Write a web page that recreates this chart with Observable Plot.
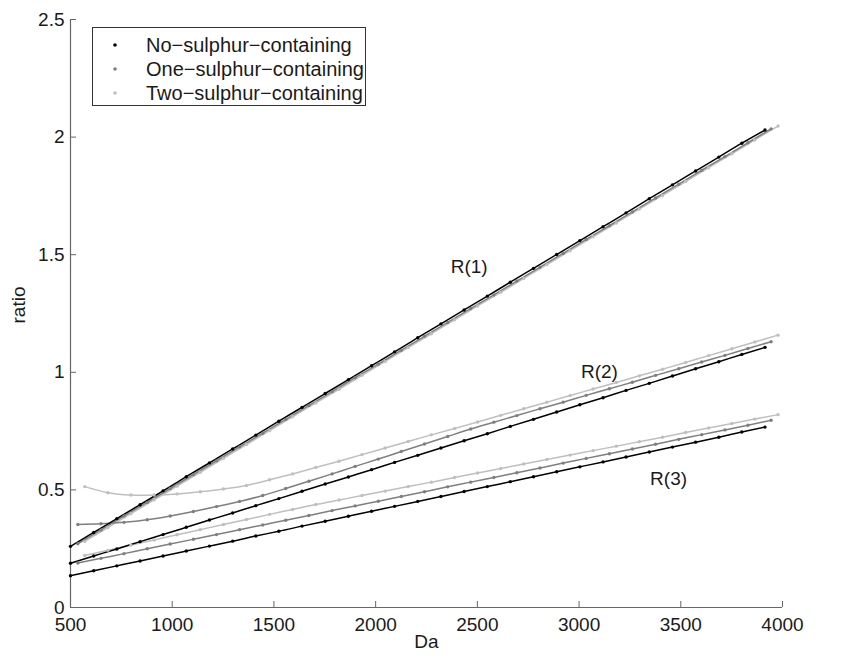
<!DOCTYPE html>
<html><head><meta charset="utf-8">
<script src="https://cdn.jsdelivr.net/npm/d3@7"></script>
<script src="https://cdn.jsdelivr.net/npm/@observablehq/plot@0.6"></script>
<style>body{margin:0;background:#fff}</style>
</head><body><div id="chart"></div>
<script>
const groups = ["No\u2212sulphur\u2212containing", "One\u2212sulphur\u2212containing", "Two\u2212sulphur\u2212containing"];
const groupColors = ["#000000", "#7f7f7f", "#bfbfbf"];

const daNo = [500,614,728,842,955,1069,1183,1297,1411,1524,1638,1752,1866,1980,2093,2207,2321,2435,2549,2662,2776,2890,3004,3118,3231,3345,3459,3573,3687,3800,3914];
const r1No = [0.260,0.319,0.378,0.437,0.496,0.556,0.615,0.674,0.733,0.792,0.851,0.910,0.969,1.028,1.087,1.147,1.206,1.265,1.324,1.383,1.442,1.501,1.560,1.619,1.678,1.738,1.797,1.856,1.915,1.974,2.030];
const r2No = [0.188,0.219,0.249,0.280,0.310,0.341,0.372,0.402,0.433,0.463,0.494,0.525,0.555,0.586,0.617,0.647,0.678,0.709,0.739,0.770,0.800,0.831,0.862,0.892,0.923,0.953,0.984,1.015,1.045,1.076,1.106];
const r3No = [0.135,0.156,0.177,0.198,0.219,0.240,0.261,0.282,0.304,0.324,0.346,0.367,0.388,0.409,0.430,0.451,0.472,0.493,0.514,0.535,0.556,0.577,0.598,0.619,0.640,0.661,0.682,0.703,0.724,0.746,0.767];

const daOne = [536,650,763,877,990,1104,1218,1331,1445,1558,1672,1786,1899,2013,2126,2240,2354,2467,2581,2694,2808,2922,3035,3149,3262,3376,3490,3603,3717,3830,3944];
const r1One = [0.271,0.330,0.389,0.447,0.506,0.565,0.624,0.683,0.741,0.800,0.859,0.918,0.977,1.035,1.094,1.153,1.212,1.271,1.329,1.388,1.447,1.506,1.565,1.623,1.682,1.741,1.800,1.859,1.917,1.976,2.035];
const r2One = [0.353,0.356,0.362,0.373,0.389,0.408,0.429,0.451,0.476,0.506,0.537,0.568,0.600,0.631,0.663,0.695,0.727,0.759,0.788,0.816,0.845,0.873,0.902,0.930,0.958,0.987,1.015,1.044,1.072,1.101,1.130];
const r3One = [0.189,0.209,0.229,0.250,0.270,0.290,0.310,0.331,0.351,0.371,0.391,0.412,0.432,0.452,0.472,0.492,0.513,0.533,0.553,0.573,0.593,0.614,0.634,0.654,0.674,0.694,0.715,0.735,0.755,0.775,0.796];

const daTwo = [570,684,797,911,1024,1138,1252,1365,1479,1592,1706,1820,1933,2047,2160,2274,2388,2501,2615,2728,2842,2956,3069,3183,3296,3410,3524,3637,3751,3864,3978];
const r1Two = [0.281,0.340,0.399,0.458,0.516,0.575,0.634,0.693,0.752,0.811,0.870,0.928,0.987,1.046,1.105,1.164,1.223,1.282,1.340,1.399,1.458,1.517,1.576,1.635,1.694,1.752,1.811,1.870,1.929,1.988,2.047];
const r2Two = [0.514,0.488,0.478,0.478,0.483,0.492,0.504,0.519,0.543,0.568,0.595,0.622,0.650,0.678,0.706,0.734,0.761,0.789,0.817,0.845,0.873,0.901,0.929,0.957,0.985,1.013,1.042,1.071,1.100,1.129,1.158];
const r3Two = [0.221,0.243,0.265,0.287,0.309,0.331,0.353,0.374,0.396,0.417,0.438,0.457,0.476,0.495,0.514,0.533,0.553,0.572,0.591,0.610,0.629,0.648,0.667,0.686,0.705,0.724,0.744,0.763,0.782,0.801,0.820];

const xTicks = [500,1000,1500,2000,2500,3000,3500,4000];
const yTicks = [0,0.5,1,1.5,2,2.5];
const yTickLabels = ["0","0.5","1","1.5","2","2.5"];
const curveLabels = ["R(1)","R(2)","R(3)"];
const curveLabelDa = [2460,3100,3440];
const curveLabelRatio = [1.45,1.0,0.545];

// Build table (light series first so black is drawn on top)
const seriesDefs = [
  [groups[2], daTwo, [r1Two, r2Two, r3Two]],
  [groups[1], daOne, [r1One, r2One, r3One]],
  [groups[0], daNo,  [r1No,  r2No,  r3No]]
];
const rows = [];
for (const [g, das, rs] of seriesDefs) {
  rs.forEach((vals, ri) => {
    vals.forEach((v, i) => rows.push({g, r: "R" + (ri + 1), da: das[i], v}));
  });
}
const labelRows = curveLabels.map((t, i) => ({t, da: curveLabelDa[i], v: curveLabelRatio[i]}));

const FONT = "'Liberation Sans', Arial, Helvetica, sans-serif";
const W = 841, H = 656, ML = 70, MR = 59, MT = 19, MB = 49;
const axisGray = "#666666";

const chart = Plot.plot({
  width: W, height: H,
  marginLeft: ML, marginRight: MR, marginTop: MT, marginBottom: MB,
  style: {fontFamily: FONT, fontSize: "19px", color: "#1a1a1a", background: "white"},
  x: {domain: [500, 4000], label: null},
  y: {domain: [0, 2.5], label: null},
  color: {domain: groups, range: groupColors},
  marks: [
    Plot.ruleY([0], {stroke: axisGray, strokeWidth: 1.2}),
    Plot.ruleX([500], {stroke: axisGray, strokeWidth: 1.2}),
    Plot.tickX(xTicks, {x: d => d, stroke: axisGray, insetTop: H - MT - MB - 6}),
    Plot.tickY(yTicks, {y: d => d, stroke: axisGray, insetRight: W - ML - MR - 6}),
    Plot.axisX(xTicks, {tickSize: 0, tickPadding: 10, tickFormat: d => String(d), label: null}),
    Plot.axisY(yTicks, {tickSize: 0, tickPadding: 6, tickFormat: d => yTickLabels[yTicks.indexOf(d)], label: null}),
    Plot.line(rows, {x: "da", y: "v", z: d => d.g + d.r, stroke: "g", strokeWidth: 1.5, curve: "natural"}),
    Plot.dot(rows, {x: "da", y: "v", fill: "g", r: 1.7}),
    Plot.text(labelRows, {x: "da", y: "v", text: "t", fontSize: 19, fill: "#1a1a1a"}),
    Plot.text(["Da"], {frameAnchor: "bottom", dy: 40, fontSize: 19, fill: "#1a1a1a"}),
    Plot.text(["ratio"], {frameAnchor: "left", dx: -52, dy: 10, rotate: -90, fontSize: 19, fill: "#1a1a1a"})
  ]
});

// Legend box inside the plot area (top-left)
const svg = d3.select(chart);
const lg = svg.append("g").attr("font-family", FONT).attr("font-size", 20).attr("text-anchor", "start");
lg.append("rect").attr("x", 92.5).attr("y", 27.5).attr("width", 273).attr("height", 78)
  .attr("fill", "white").attr("stroke", "#333").attr("stroke-width", 1);
groups.forEach((g, i) => {
  const cy = 45 + i * 24;
  lg.append("circle").attr("cx", 115).attr("cy", cy).attr("r", 1.8).attr("fill", groupColors[i]);
  lg.append("text").attr("x", 146).attr("y", cy).attr("dy", "0.35em").attr("text-anchor", "start").attr("fill", "#1a1a1a").text(g);
});

document.getElementById("chart").appendChild(chart);
</script>
</body></html>
